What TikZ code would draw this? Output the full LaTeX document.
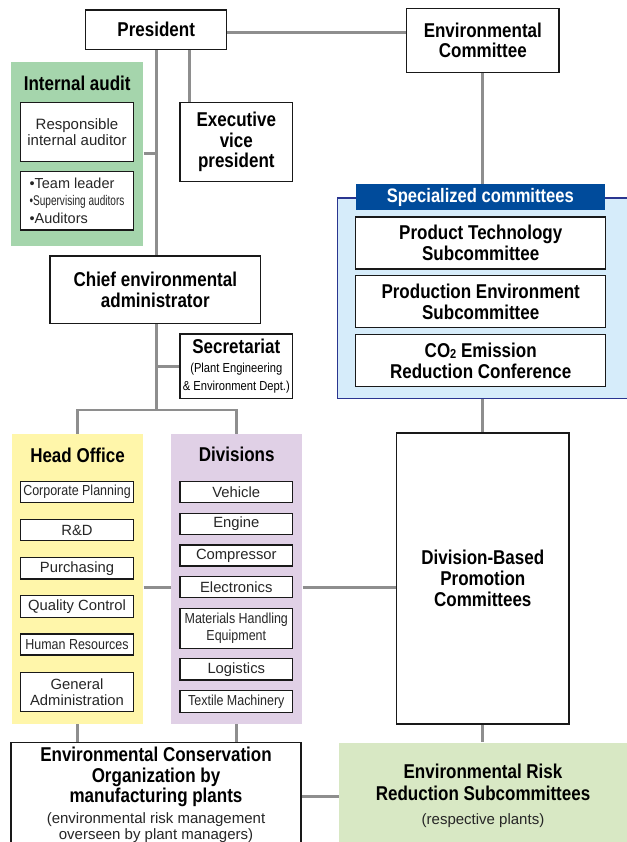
\documentclass[tikz,border=0pt]{standalone}
\usepackage{fontspec}
\setmainfont{Liberation Sans}
\newfontfamily\boldcond{Liberation Sans}[FakeStretch=0.85]
\newfontfamily\lightcond{Liberation Sans}[FakeStretch=0.86]
\newfontfamily\narrowcond{Liberation Sans}[FakeStretch=0.72]
\usetikzlibrary{backgrounds}

\definecolor{auditgreen}{HTML}{A5D5AC}
\definecolor{riskgreen}{HTML}{D8E8C4}
\definecolor{officeyellow}{HTML}{FFF6AA}
\definecolor{divpurple}{HTML}{E0D0E6}
\definecolor{specblue}{HTML}{D6ECFA}
\definecolor{specborder}{HTML}{2A3590}
\definecolor{titleblue}{HTML}{004B9B}
\definecolor{linkgray}{HTML}{8E8E8E}

\newcommand\subtxt{\normalfont\fontsize{15}{16}\selectfont\color{black!85}}

\tikzset{
  boxnode/.style={draw=black!90, line width=1.3pt, fill=white, inner sep=0pt, align=center},
  bighead/.style={font=\boldcond\bfseries\fontsize{20}{20.7}\selectfont},
  itemlbl/.style={boxnode, font=\fontsize{14.8}{16}\selectfont, text=black!85},
  itemlblc/.style={boxnode, font=\lightcond\fontsize{14.5}{17}\selectfont, text=black!85},
  panel/.style={inner sep=0pt},
  link/.style={draw=linkgray, line width=2.8pt},
}

\begin{document}
\begin{tikzpicture}[x=1pt,y=-1pt]
    \useasboundingbox (0,0) rectangle (626,842);
    % top row
    \begin{scope}[every node/.style={boxnode, bighead}]
        \node[minimum width=141, minimum height=39.3] (pres) at (156.2,29.7) {President};
        \node[minimum width=152.3, minimum height=64.4] (envcom) at (482.8,40.5) {Environmental\\Committee};
        \node[minimum width=112.7, minimum height=79.4] (evp) at (236.3,142) {Executive\\vice\\president};
        \node[minimum width=210.7, minimum height=67.3] (chief) at (155.3,289.7) {Chief environmental\\administrator};
    \end{scope}
    % internal audit
    \node[panel, fill=auditgreen, minimum width=132.3, minimum height=184.3] (audit) at (77.2,153.8) {};
    \node[bighead] (audittitle) at (77.2,83.5) {Internal audit};
    \node[itemlbl, font=\fontsize{15}{16}\selectfont, minimum width=112.6, minimum height=59] (resp) at (77,131.8) {Responsible\\internal auditor};
    \node[itemlbl, align=left, font=\fontsize{14.5}{17.5}\selectfont, minimum width=112.6, minimum height=58.3] (team) at (77,200.8)
        {\textbullet Team leader\\{\narrowcond\fontsize{14}{17.5}\selectfont\textbullet Supervising auditors}\\\textbullet Auditors};
    % secretariat
    \node[boxnode, font=\lightcond\fontsize{13}{18.5}\selectfont, minimum width=112.7, minimum height=64.3] (secr) at (236.3,366.2)
        {{\boldcond\bfseries\fontsize{20}{18.5}\selectfont Secretariat}\\(Plant Engineering\\\&~Environment Dept.)};
    % head office and divisions
    \node[panel, fill=officeyellow, minimum width=131.6, minimum height=290] (head) at (77.5,579) {};
    \node[panel, fill=divpurple, minimum width=131.3, minimum height=290] (div) at (236.7,579) {};
    \node[bighead] (headtitle) at (77.5,455) {Head Office};
    \node[bighead] (divtitle) at (236.7,454) {Divisions};
    \begin{scope}[every node/.append style={minimum width=112.6}]
        \node[itemlblc, minimum height=21] (corp) at (77,492.2) {Corporate Planning};
        \node[itemlbl, minimum height=21.4] (rd) at (77,530) {R\&D};
        \node[itemlbl, minimum height=21.3] (purch) at (77,568.3) {Purchasing};
        \node[itemlbl, minimum height=21.6] (qc) at (77,606.5) {Quality Control};
        \node[itemlblc, minimum height=21] (hr) at (77,644.5) {Human Resources};
        \node[itemlbl, minimum height=39.4] (ga) at (77,692) {General\\Administration};
        \node[itemlbl, minimum height=21] (veh) at (236.3,492.2) {Vehicle};
        \node[itemlbl, minimum height=21] (eng) at (236.3,523.8) {Engine};
        \node[itemlbl, minimum height=21] (comp) at (236.3,555.5) {Compressor};
        \node[itemlbl, minimum height=21] (elec) at (236.3,587.2) {Electronics};
        \node[itemlblc, minimum height=40] (mhe) at (236.3,628.3) {Materials Handling\\Equipment};
        \node[itemlbl, minimum height=21.7] (log) at (236.3,669.2) {Logistics};
        \node[itemlblc, minimum height=21.6] (tex) at (236.3,701.5) {Textile Machinery};
    \end{scope}
    % specialized committees
    \node[panel, draw=specborder, line width=1.6pt, fill=specblue, minimum width=302.7, minimum height=200] (spec) at (488.7,298.3) {};
    \node[panel, fill=titleblue, text=white, font=\boldcond\bfseries\fontsize{19.5}{20}\selectfont,
          minimum width=249.3, minimum height=26] (spectitle) at (480.3,197) {Specialized committees};
    \begin{scope}[every node/.style={boxnode, bighead, minimum width=250, minimum height=52}]
        \node (prod) at (480.7,243) {Product Technology\\Subcommittee};
        \node (prodenv) at (480.7,301.8) {Production Environment\\Subcommittee};
        \node (co2) at (480.7,360.7) {CO{\fontsize{13}{13}\selectfont\raisebox{-1pt}{2}} Emission\\Reduction Conference};
    \end{scope}
    \node[boxnode, bighead, minimum width=172.3, minimum height=291] (dbpc) at (482.8,578.5) {Division-Based\\Promotion\\Committees};
    % plants
    \node[boxnode, minimum width=289.8, minimum height=108] (cons) at (156,796.5) {};
    \node[align=center, bighead] (conslbl) at (156,795)
        {Environmental Conservation\\Organization by\\manufacturing plants\\{\subtxt(environmental risk management}\\[-4.5pt]{\subtxt overseen by plant managers)}};
    \node[panel, fill=riskgreen, minimum width=301, minimum height=108] (risk) at (489.5,796.5) {};
    \node[align=center, font=\boldcond\bfseries\fontsize{20}{22}\selectfont] (risklbl) at (483,796)
        {Environmental Risk\\Reduction Subcommittees\\[2pt]{\subtxt(respective plants)}};
    % connectors
    \coordinate (split) at (156.5,410);
    \begin{scope}[on background layer, every edge/.style={link}]
        \path ([yshift=-2.6pt]pres.east) edge ([yshift=-2.6pt]pres.east -| envcom.west)
              ([xshift=1pt]chief.north) edge ([xshift=1pt]chief.north |- pres.south)
              ([xshift=10pt]evp.north west) edge ([xshift=10pt]evp.north west |- pres.south)
              (audit.east) edge (audit.east -| split)
              (secr.west) edge (secr.west -| split)
              (split) edge (split |- chief.south)
              (head.east |- elec) edge (div.west |- elec)
              (div.east |- elec) edge (dbpc.west |- elec)
              (envcom.south) edge (envcom.south |- spectitle.north)
              (dbpc.north) edge (dbpc.north |- spec.south)
              (dbpc.south) edge (dbpc.south |- risk.north)
              (head.south) edge (head.south |- cons.north)
              (div.south) edge (div.south |- cons.north)
              (cons.east) edge (cons.east -| risk.west);
        \draw[link] (head.north) |- (split) -| (div.north);
    \end{scope}
\end{tikzpicture}
\end{document}
